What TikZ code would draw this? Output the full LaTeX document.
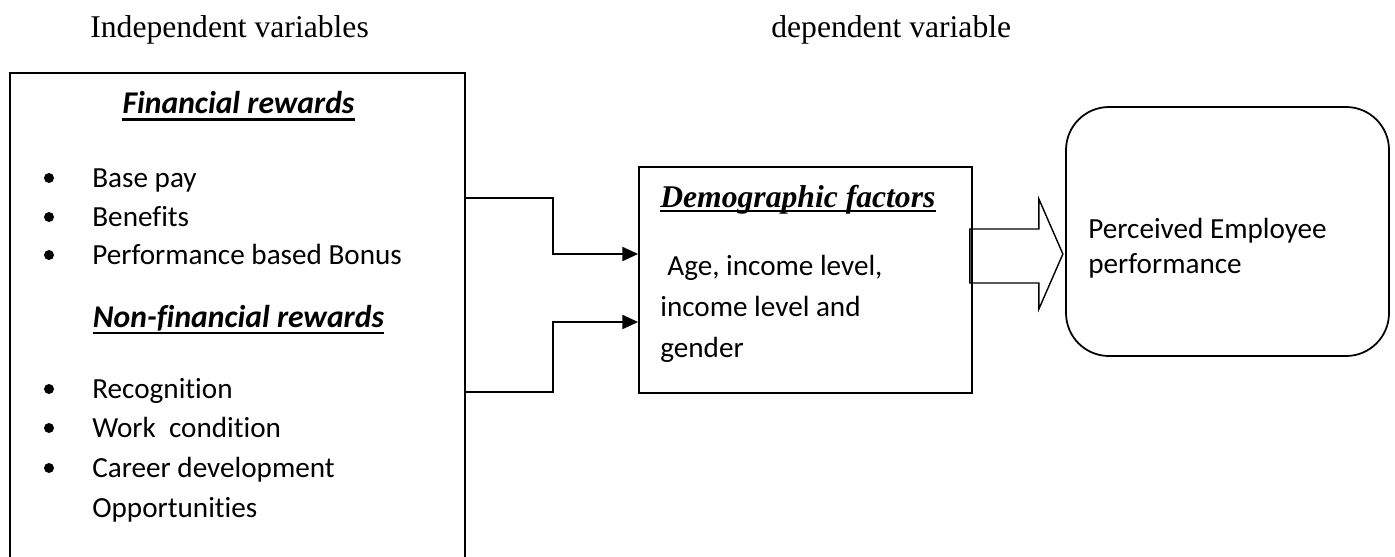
\documentclass[tikz,border=0pt]{standalone}
\usepackage{fontspec}
\setmainfont[Ligatures=CommonOff]{Carlito}
\newfontfamily\timesfont{Liberation Serif}
\usetikzlibrary{calc,arrows.meta}

\begin{document}
\begin{tikzpicture}[scale=0.2]
                \tikzstyle{every node}+=[inner sep=0pt]
                \tikzstyle{body}=[anchor=base west, font=\fontsize{16.6}{20}\selectfont]
                \tikzstyle{head}=[anchor=base west, font=\timesfont\fontsize{18}{22}\selectfont]
                \tikzstyle{title}=[anchor=base, font=\fontsize{18}{22}\selectfont\bfseries\itshape]
                \tikzstyle{box}=[draw=black, line width=1pt]
                \tikzstyle{link}=[black, line width=1.1pt, -{Triangle[length=9pt,width=8pt]}]
                \tikzstyle{uline}=[black, line width=1.5pt]
                \useasboundingbox (0,0) rectangle (139.5,-55.6);
                % headings
                \draw (9,-3.7) node [head] (indep) {Independent variables};
                \draw (77.1,-3.7) node [head] (dep) {dependent variable};
                % boxes
                \node [box, minimum width=9.1cm, minimum height=9.7cm] (rewards) at (23.75,-31.55) {};
                \node [box, minimum width=6.66cm, minimum height=4.52cm] (demo) at (80.55,-28) {};
                \node [box, rounded corners=0.86cm, minimum width=6.46cm, minimum height=4.98cm] (perf) at (122.75,-23.15) {};
                % left box text
                \draw (23.85,-11.3) node [title] (fin) {Financial rewards};
                \draw [uline] ($(fin.base west)+(0,-0.65)$) -- ($(fin.base east)+(0,-0.65)$);
                \draw (9.2,-18.7) node [body] (pay) {Base pay};
                \fill [black] (4.9,-17.8) circle (0.5);
                \draw (9.2,-22.6) node [body] (ben) {Benefits};
                \fill [black] (4.9,-21.7) circle (0.5);
                \draw (9.2,-26.4) node [body] (bonus) {Performance based Bonus};
                \fill [black] (4.9,-25.5) circle (0.5);
                \draw (23.85,-32.7) node [title] (nonfin) {Non-financial rewards};
                \draw [uline] ($(nonfin.base west)+(0,-0.6)$) -- ($(nonfin.base east)+(0,-0.6)$);
                \draw (9.2,-39.8) node [body] (recog) {Recognition};
                \fill [black] (4.9,-38.9) circle (0.5);
                \draw (9.2,-43.7) node [body] (work) {Work~~condition};
                \fill [black] (4.9,-42.8) circle (0.5);
                \draw (9.2,-47.7) node [body] (career) {Career development};
                \fill [black] (4.9,-46.8) circle (0.5);
                \draw (9.2,-51.7) node [body] (opp) {Opportunities};
                % middle box text
                \draw (66,-20.7) node [head, font=\timesfont\fontsize{18}{22}\selectfont\bfseries\itshape] (demotitle) {Demographic factors};
                \draw [uline] ($(demotitle.base west)+(0,-0.4)$) -- ($(demotitle.base east)+(0,-0.4)$);
                \draw (66.7,-27.5) node [body] (age) {Age, income level,};
                \draw (66,-31.6) node [body] (inc) {income level and};
                \draw (66,-35.7) node [body] (gen) {gender};
                % right box text
                \draw (108.8,-23.8) node [body] (perc) {Perceived Employee};
                \draw (108.8,-27.3) node [body] (perfm) {performance};
                % connectors
                \draw [link] ($(rewards.east)+(0,11.75)$) -- ++(8.7,0) |- ($(demo.west)+(0,2.6)$);
                \draw [link] ($(rewards.east)+(0,-7.65)$) -- ++(8.7,0) |- ($(demo.west)+(0,-4.2)$);
                % block arrow
                \draw [box, line width=0.8pt] ($(demo.east)+(-0.3,5.1)$) -- ++(6.9,0) -- ++(0,3) -- ++(2.4,-5.5)
                      -- ++(-2.4,-5.5) -- ++(0,2.6) -- ++(-6.9,0) -- cycle;
            \end{tikzpicture}
\end{document}
